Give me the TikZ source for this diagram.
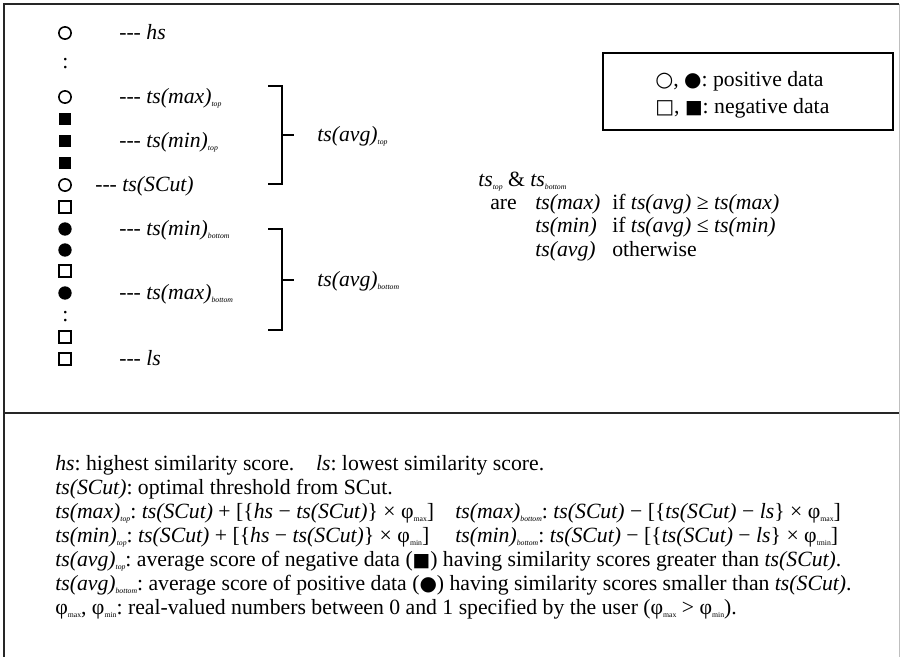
\documentclass[tikz,border=0pt]{standalone}
\usepackage{fontspec}
\setmainfont{Liberation Serif}
\newfontfamily\symf{DejaVu Sans}
\frenchspacing
\newcommand{\sbi}[1]{\raisebox{-2.4pt}{\fontsize{5.8}{6}\selectfont\itshape #1}}
\newcommand{\sbu}[1]{\raisebox{-2.4pt}{\fontsize{5.8}{6}\selectfont #1}}
\newcommand{\gOC}{{\symf\fontsize{15.5}{14}\selectfont ○}}
\newcommand{\gFC}{{\symf\fontsize{15}{14}\selectfont ●}}
\newcommand{\gOS}{{\symf\fontsize{15}{14}\selectfont □}}
\newcommand{\gFS}{{\symf\fontsize{14}{14}\selectfont ■}}
\newcommand{\dsh}{-{}-{}-}
\begin{document}
\begin{tikzpicture}[x=0.75pt,y=-0.75pt,
  txt/.style={inner sep=0pt, anchor=base west, font=\fontsize{16.3}{18}\selectfont},
  opc/.style={circle, draw, line width=1.2pt, minimum size=9.2pt, inner sep=0pt},
  flc/.style={circle, fill, minimum size=10pt, inner sep=0pt},
  ops/.style={rectangle, draw, line width=1.2pt, minimum size=8.6pt, inner sep=0pt},
  fls/.style={rectangle, fill, minimum size=9.6pt, inner sep=0pt},
  frame/.style={line width=1.5pt, draw=black!85},
  brk/.style={line width=1pt}]
\useasboundingbox (0,0) rectangle (901,657);
% frame
\draw[frame] (4,657) -- (4,4) -- (899,4);
\draw[line width=0.8pt, draw=black!25] (899.5,4) -- (899.5,657);
\draw[frame] (4,413) -- (899,413);
% left column markers
\node[opc] (m1) at (65,33) {};
\node[txt] (c1) at (62,68) {:};
\node[opc] (m2) at (65,97) {};
\node[fls] (m3) at (65,119) {};
\node[fls] (m4) at (65,141) {};
\node[fls] (m5) at (65,163) {};
\node[opc] (m6) at (65,185) {};
\node[ops] (m7) at (65,207) {};
\node[flc] (m8) at (65,229) {};
\node[flc] (m9) at (65,250) {};
\node[ops] (m10) at (65,271) {};
\node[flc] (m11) at (65,293) {};
\node[txt] (c2) at (62,321) {:};
\node[ops] (m12) at (65,337) {};
\node[ops] (m13) at (65,359) {};
% labels
\node[txt] (l1) at (119,39) {\dsh{} \textit{hs}};
\node[txt] (l2) at (119,103) {\dsh{} \textit{ts(max)}\sbi{top}};
\node[txt] (l3) at (119,147) {\dsh{} \textit{ts(min)}\sbi{top}};
\node[txt] (l4) at (95,191) {\dsh{} \textit{ts(SCut)}};
\node[txt] (l5) at (119,235) {\dsh{} \textit{ts(min)}\sbi{bottom}};
\node[txt] (l6) at (119,299) {\dsh{} \textit{ts(max)}\sbi{bottom}};
\node[txt] (l7) at (119,365) {\dsh{} \textit{ls}};
% brackets
\coordinate (b1t) at (282,86);
\coordinate (b1b) at (282,184);
\coordinate (b1m) at (282,135);
\draw[brk] (268,86) -- (b1t) -- (b1b) -- (268,184);
\draw[brk] (b1m) -- (294,135);
\node[txt] (a1) at (317,141) {\textit{ts(avg)}\sbi{top}};
\coordinate (b2t) at (282,229);
\coordinate (b2b) at (282,330);
\coordinate (b2m) at (282,280);
\draw[brk] (268,229) -- (b2t) -- (b2b) -- (268,330);
\draw[brk] (b2m) -- (294,280);
\node[txt] (a2) at (317,286) {\textit{ts(avg)}\sbi{bottom}};
% legend
\node[draw, line width=0.8pt, minimum width=290*0.75pt, minimum height=77*0.75pt, inner sep=0pt] (leg) at (748,91.5) {};
\node[txt] (lg1) at (655,86) {\gOC, \gFC: positive data};
\node[txt] (lg2) at (655,113) {\gOS, \gFS: negative data};
% conditions
\node[txt] (k0) at (478,186) {\textit{ts}\sbi{top} \& \textit{ts}\sbi{bottom}};
\node[txt] (k1) at (490,209) {are};
\node[txt] (k2) at (535,209) {\textit{ts(max)}};
\node[txt] (k3) at (612,209) {if \textit{ts(avg)} ≥ \textit{ts(max)}};
\node[txt] (k4) at (535,232) {\textit{ts(min)}};
\node[txt] (k5) at (612,232) {if \textit{ts(avg)} ≤ \textit{ts(min)}};
\node[txt] (k6) at (535,256) {\textit{ts(avg)}};
\node[txt] (k7) at (612,256) {otherwise};
% definitions
\node[txt] (d1) at (55,470) {\textit{hs}: highest similarity score.\hspace{0.75em} \textit{ls}: lowest similarity score.};
\node[txt] (d2) at (55,494) {\textit{ts(SCut)}: optimal threshold from SCut.};
\node[txt] (d3) at (55,518) {\textit{ts(max)}\sbi{top}: \textit{ts(SCut)} + [\{\textit{hs} − \textit{ts(SCut)}\} × φ\sbu{max}]};
\node[txt] (d3b) at (455,518) {\textit{ts(max)}\sbi{bottom}: \textit{ts(SCut)} − [\{\textit{ts(SCut)} − \textit{ls}\} × φ\sbu{max}]};
\node[txt] (d4) at (55,542) {\textit{ts(min)}\sbi{top}: \textit{ts(SCut)} + [\{\textit{hs} − \textit{ts(SCut)}\} × φ\sbu{min}]};
\node[txt] (d4b) at (455,542) {\textit{ts(min)}\sbi{bottom}: \textit{ts(SCut)} − [\{\textit{ts(SCut)} − \textit{ls}\} × φ\sbu{tmin}]};
\node[txt] (d5) at (55,566) {\textit{ts(avg)}\sbi{top}: average score of negative data (\gFS) having similarity scores greater than \textit{ts(SCut)}.};
\node[txt] (d6) at (55,590) {\textit{ts(avg)}\sbi{bottom}: average score of positive data (\gFC) having similarity scores smaller than \textit{ts(SCut)}.};
\node[txt] (d7) at (55,614) {φ\sbu{max}, φ\sbu{min}: real-valued numbers between 0 and 1 specified by the user (φ\sbu{max} > φ\sbu{min}).};
\end{tikzpicture}
\end{document}
